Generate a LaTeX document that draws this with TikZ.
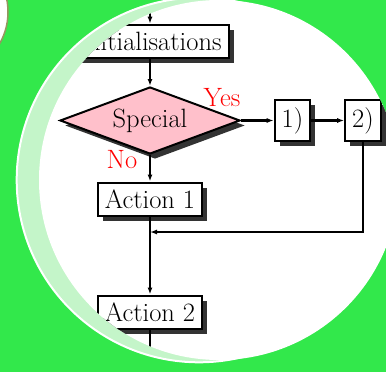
\documentclass[tikz,border=0pt]{standalone}
\usetikzlibrary{shapes.geometric,shadows,arrows.meta}
\definecolor{fond}{RGB}{50,232,75}
\definecolor{pale}{RGB}{196,245,201}
\definecolor{bordolive}{RGB}{150,150,95}
\definecolor{rosepale}{RGB}{255,192,203}
\newcommand\grandtexte{\fontsize{26.5}{32}\selectfont}

\begin{document}
\begin{tikzpicture}[x=1pt,y=-1pt,
    ombre/.style={drop shadow={shadow xshift=5pt,shadow yshift=-5pt,fill=black!80,opacity=1}},
    boite/.style={draw,line width=2pt,fill=white,inner xsep=7pt,inner ysep=7.5pt,font=\grandtexte,ombre},
    losange/.style={draw,line width=2pt,fill=rosepale,shape=diamond,aspect=2.7,inner sep=2pt,%
      minimum width=180pt,minimum height=67pt,font=\grandtexte,ombre},
    etiquette/.style={text=red,font=\grandtexte,inner sep=0pt},
    fleche/.style={line width=1.6pt,-{Latex[length=7pt,width=5pt]}}]
      \useasboundingbox (0,0) rectangle (386,372) ;
      \clip (0,0) rectangle (386,372) ;
      \fill[fond] (0,0) rectangle (386,372) ;
      \draw[bordolive,fill=white,line width=1.5pt] (-56,12) circle (64pt) ;
      \draw[white,fill=pale,line width=2pt] (199,180) circle (182.3pt) ;
      \fill[white] (219,180) circle (180pt) ;
      \begin{scope}
      \clip (219,180) circle (180pt) ;
      \node[boite] (init) at (150,41.5) {Initialisations} ;
      \node[losange] (special) at (150,120.5) {Special} ;
      \node[boite] (un) at (292.5,120.5) {1)} ;
      \node[boite] (deux) at (363,120.5) {2)} ;
      \node[boite] (action1) at (150,199.5) {Action 1} ;
      \node[boite] (action2) at (150,312.5) {Action 2} ;
      \node[etiquette] (oui) at (222,98) {Yes} ;
      \node[etiquette] (non) at (122,160) {No} ;
      \coordinate (entree) at (150,-5) ;
      \coordinate (coin) at (363,232) ;
      \coordinate (retour) at (150,232) ;
      \coordinate (sortie) at (150,380) ;
      \draw[fleche] (entree) -- (init) ;
      \draw[fleche] (init) -- (special) ;
      \draw[fleche,line width=2.4pt] (special) -- (un) ;
      \draw[fleche,line width=2.4pt] (un) -- (deux) ;
      \draw[fleche] (special) -- (action1) ;
      \draw[fleche,line width=1.3pt] (deux) -- (coin) -- (retour) ;
      \draw[fleche] (action1) -- (action2) ;
      \draw[line width=1.6pt] (action2) -- (sortie) ;
      \end{scope}
    \end{tikzpicture}
\end{document}
